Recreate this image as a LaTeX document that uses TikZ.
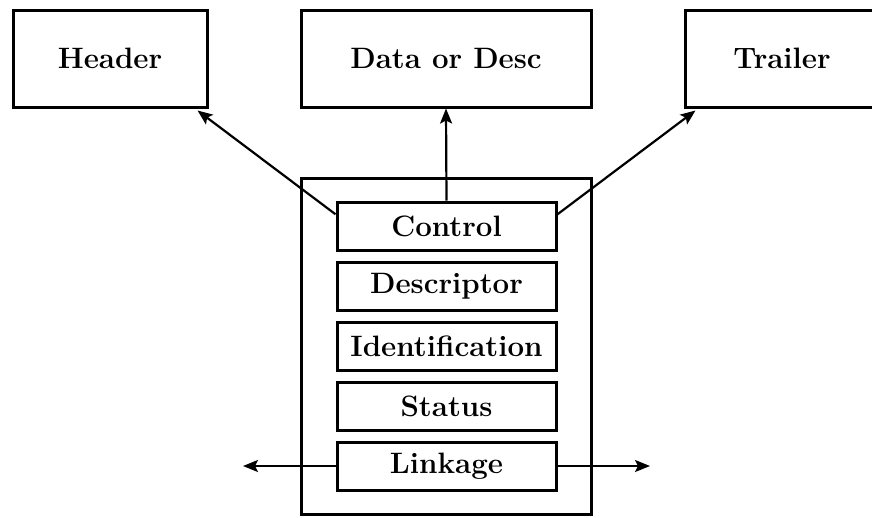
\documentclass[tikz,border=0pt]{standalone}
\usepackage{fontspec}
\usetikzlibrary{arrows.meta,calc}
\tikzset{
  boxline/.style={draw, line width=3pt, inner sep=0pt, font=\fontsize{29.5}{34}\selectfont\bfseries},
  topbox/.style={boxline, minimum width=194pt, minimum height=97pt},
  innerbox/.style={boxline, minimum width=219pt, minimum height=48pt},
  conn/.style={line width=2.2pt, -{Stealth[length=15pt,width=12pt,inset=3pt]}}
}
\begin{document}
\begin{tikzpicture}[x=1pt,y=-1pt]
\useasboundingbox (0,0) rectangle (872,517);
\node[topbox] (hdr) at (110,58.5) {Header};
\node[topbox, minimum width=290pt] (dat) at (446,58.5) {Data or Desc};
\node[topbox] (trl) at (782,58.5) {Trailer};
\node[boxline, minimum width=290pt, minimum height=336pt] (out) at (446,346) {};
\node[innerbox] (ctl) at (446.5,226) {Control};
\node[innerbox] (dsc) at (446.5,286) {Descriptor};
\node[innerbox] (idn) at (446.5,346.5) {Identification};
\node[innerbox] (sts) at (446.5,406.5) {Status};
\node[innerbox] (lnk) at (446.5,466) {Linkage};
\coordinate (cl) at ($(ctl.north west)!0.27!(ctl.south west)$);
\coordinate (cr) at ($(ctl.north east)!0.27!(ctl.south east)$);
\coordinate (ht) at ($(hdr.south east)+(-11,2)$);
\coordinate (tt) at ($(trl.south west)+(12,2)$);
\coordinate (ll) at (243,466);
\coordinate (lr) at (650,466);
\draw[conn] (cl) -- (ht);
\draw[conn] (cr) -- (tt);
\draw[conn] (ctl.north) -- (dat.south);
\draw[conn] (lnk.west) -- (ll);
\draw[conn] (lnk.east) -- (lr);
\end{tikzpicture}
\end{document}
